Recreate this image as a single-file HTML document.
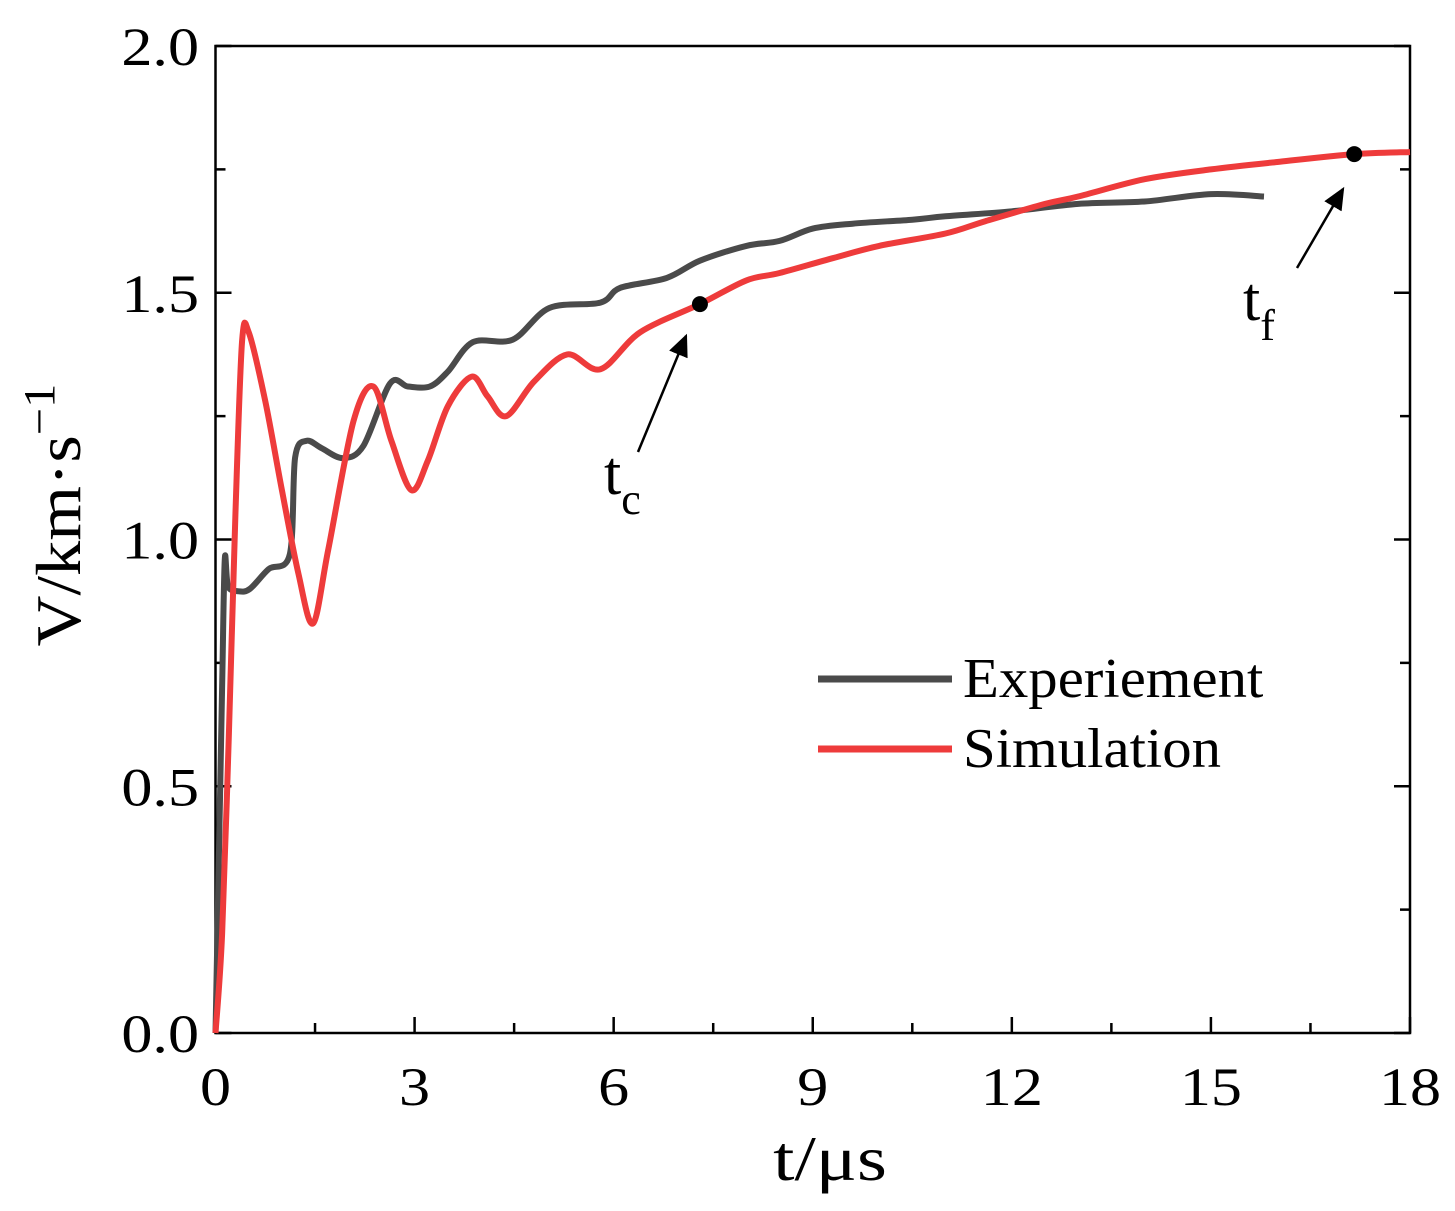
<!DOCTYPE html>
<html><head><meta charset="utf-8"><style>
body{margin:0;background:#fff;}
svg{display:block;font-family:"Liberation Serif",serif;}
</style></head><body>
<svg id="chart" width="1455" height="1211" viewBox="0 0 1455 1211" style="position:absolute;left:0;top:0">
<g id="plot"></g>
</svg>
<script>
const expT=[0,0.05,0.1,0.14,0.19,0.35,0.52,0.8,1.12,1.2,1.37,1.6,1.92,2.23,2.63,2.9,3.23,3.5,3.88,4.48,5.03,5.8,6.1,6.8,7.3,8.0,8.5,9.0,9.6,10.5,11.0,12.0,13.0,14.0,15.0,15.8];
const expV=[0,0.35,0.7,0.96,0.905,0.895,0.9,0.94,0.97,1.166,1.2,1.185,1.165,1.19,1.316,1.31,1.31,1.34,1.40,1.405,1.469,1.48,1.51,1.53,1.565,1.595,1.605,1.63,1.64,1.648,1.655,1.665,1.68,1.685,1.70,1.695];
const simT=[0,0.1,0.2,0.3,0.4,0.5,0.75,1.0,1.25,1.47,1.7,2.08,2.38,2.65,2.95,3.2,3.5,3.86,4.1,4.38,4.8,5.3,5.8,6.4,7.3,8.0,8.5,9.3,10.0,11.0,11.6,12.5,13.0,14.0,15.0,16.0,17.16,18.0];
const simV=[0,0.2,0.6,1.05,1.40,1.42,1.28,1.10,0.93,0.83,0.98,1.24,1.31,1.2,1.10,1.16,1.27,1.33,1.29,1.25,1.32,1.375,1.345,1.42,1.477,1.525,1.54,1.57,1.595,1.62,1.645,1.68,1.695,1.73,1.75,1.765,1.781,1.785];
const xTicks=[0,3,6,9,12,15,18];
const yTicks=[0.0,0.5,1.0,1.5,2.0];
const markers=[[7.3,1.477,'c'],[17.16,1.781,'f']];

const NS='http://www.w3.org/2000/svg';
const X0=215.5,X1=1410,Y0=1033,Y1=46;
const xs=v=>X0+v/18*(X1-X0);
const ys=v=>Y0-v/2*(Y0-Y1);
const g=document.getElementById('plot');
function el(t,a,p){const e=document.createElementNS(NS,t);for(const k in a)e.setAttribute(k,a[k]);(p||g).appendChild(e);return e;}

const fr=el('rect',{x:X0,y:Y1,width:X1-X0,height:Y0-Y1,fill:'none',stroke:'#000','stroke-width':2.5});


for(let v=0;v<=18;v+=1.5){
 const major=xTicks.includes(v);
 const t=el('line',{x1:xs(v),x2:xs(v),y1:Y0,y2:Y0-(major?16:10),stroke:'#000','stroke-width':2.5});
 
 
}
xTicks.forEach(v=>{
 const t=el('text',{transform:`translate(${xs(v)},1105) scale(1.15,1)`,'font-size':54,'text-anchor':'middle'});t.textContent=v;
 
 
});
for(let v=0;v<=2.0001;v+=0.25){
 const major=Math.abs(v*2-Math.round(v*2))<1e-6;
 const t=el('line',{x1:X0,x2:X0+(major?16:10),y1:ys(v),y2:ys(v),stroke:'#000','stroke-width':2.5});
 
 
 const r=el('line',{x1:X1,x2:X1-(major?16:10),y1:ys(v),y2:ys(v),stroke:'#000','stroke-width':2.5});
 
 
}
yTicks.forEach(v=>{
 const t=el('text',{transform:`translate(199,${ys(v)+19}) scale(1.15,1)`,'font-size':54,'text-anchor':'end'});t.textContent=v.toFixed(1);
 
 
});
function line(T,V,c,name){
 const P=T.map((t,i)=>[xs(t),ys(V[i])]);
 let d='M'+P[0][0].toFixed(1)+','+P[0][1].toFixed(1);
 for(let i=0;i<P.length-1;i++){
  const p0=P[Math.max(0,i-1)],p1=P[i],p2=P[i+1],p3=P[Math.min(P.length-1,i+2)];
  const k=0.16;
  d+='C'+(p1[0]+(p2[0]-p0[0])*k).toFixed(1)+','+(p1[1]+(p2[1]-p0[1])*k).toFixed(1)+' '+
     (p2[0]-(p3[0]-p1[0])*k).toFixed(1)+','+(p2[1]-(p3[1]-p1[1])*k).toFixed(1)+' '+
     p2[0].toFixed(1)+','+p2[1].toFixed(1);
 }
 const p=el('path',{d:d,fill:'none',stroke:c,'stroke-width':6,'stroke-linejoin':'round'});
 
 
}
line(expT,expV,'#4a4a4a','experiment-line');
line(simT,simV,'#ee3b3b','simulation-line');
markers.forEach(m=>{
 const c=el('circle',{cx:xs(m[0]),cy:ys(m[1]),r:8,fill:'#000'});
 
 
});
</script>
<svg width="1455" height="1211" style="position:absolute;left:0;top:0" font-family="Liberation Serif,serif">
<defs><marker id="ah" markerWidth="10" markerHeight="10" refX="8" refY="5" orient="auto"><path d="M0,1 L9,5 L0,9 z" fill="#000"/></marker></defs>
<line x1="638" y1="452" x2="686" y2="336" stroke="#000" stroke-width="2.5" marker-end="url(#ah)"/>
<text x="604" y="494" font-size="62">t<tspan font-size="44" dy="20">c</tspan></text>
<line x1="1297" y1="268" x2="1343" y2="189" stroke="#000" stroke-width="2.5" marker-end="url(#ah)"/>
<text x="1243" y="320" font-size="62">t<tspan font-size="44" dy="20">f</tspan></text>
<line x1="818" y1="679" x2="952" y2="679" stroke="#4a4a4a" stroke-width="7"/>
<text transform="translate(963,697) scale(1.05,1)" font-size="56">Experiement</text>
<line x1="818" y1="749" x2="952" y2="749" stroke="#ee3b3b" stroke-width="7"/>
<text transform="translate(963,767) scale(1.05,1)" font-size="56">Simulation</text>
<text transform="translate(830,1180) scale(1.2,1)" font-size="64" text-anchor="middle">t/μs</text>
<text transform="translate(80,515) rotate(-90) scale(1.1,1)" font-size="64" text-anchor="middle">V/km·s<tspan font-size="44" dy="-26">−1</tspan></text>
</svg>
</body></html>
